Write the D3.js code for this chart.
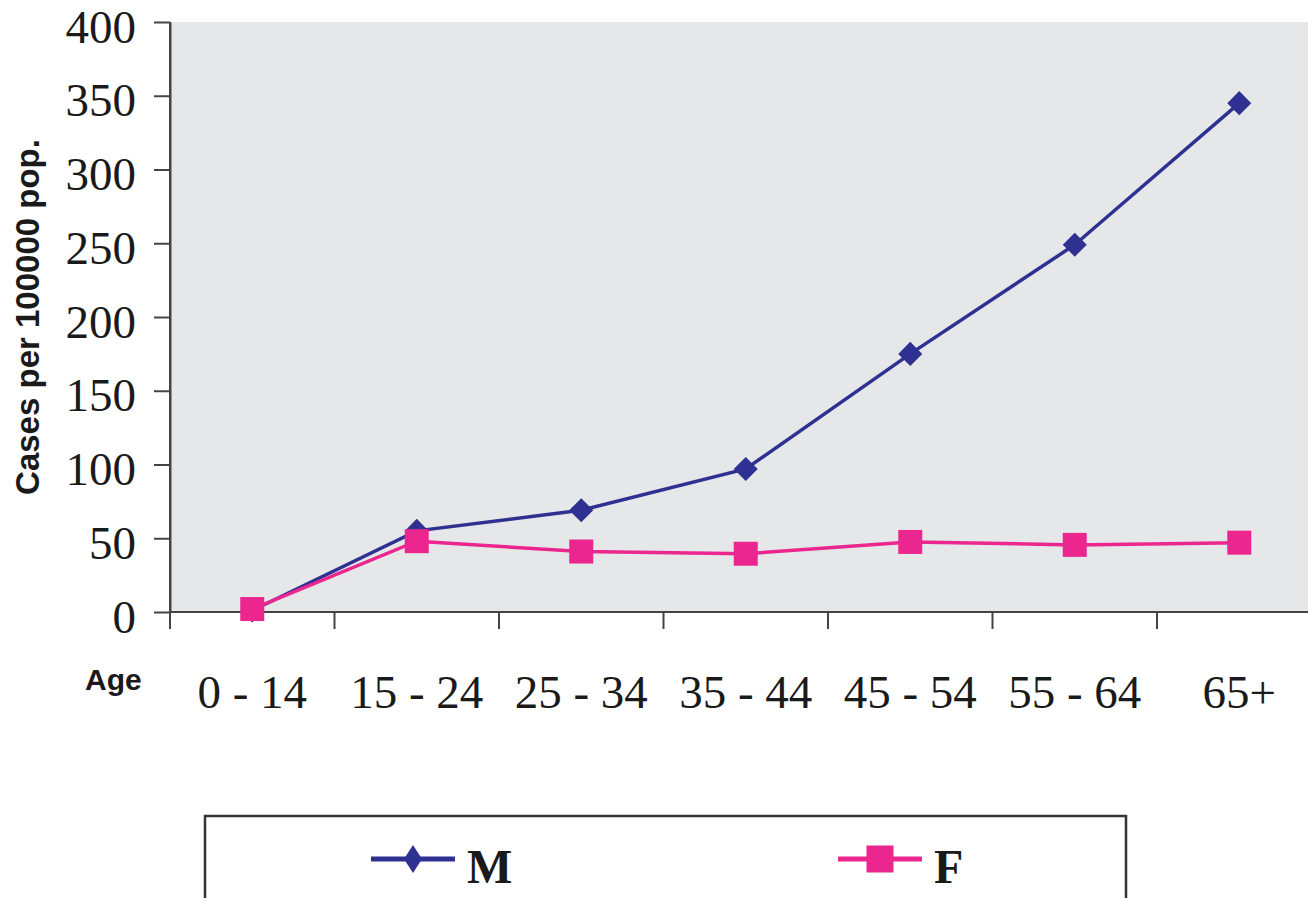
<!DOCTYPE html>
<html lang="en">
<head>
<meta charset="UTF-8">
<title>Cases per 100000 pop. by age</title>
<script src="https://cdn.jsdelivr.net/npm/d3@7/dist/d3.min.js"></script>
<style>
  * { margin: 0; padding: 0; }
  body { background: #fff; width: 1308px; height: 898px; overflow: hidden; }
  svg { display: block; }
  .tick-label { font-family: 'Liberation Serif', 'Times New Roman', serif; font-size: 47px; fill: #1a1a1a; }
  .axis-title { font-family: 'Liberation Sans', Arial, sans-serif; font-weight: bold; fill: #1a1a1a; }
  .legend-label { font-family: 'Liberation Serif', 'Times New Roman', serif; font-weight: bold; font-size: 48px; fill: #1a1a1a; }
</style>
</head>
<body>
<svg width="1308" height="898"></svg>
<script>
// data
const ageGroups = ['0 - 14', '15 - 24', '25 - 34', '35 - 44', '45 - 54', '55 - 64', '65+'];
const maleRates = [1, 55, 69, 97, 175, 249, 345];
const femaleRates = [2, 48, 41, 39.5, 47.5, 45.5, 47];
const yTicks = [0, 50, 100, 150, 200, 250, 300, 350, 400];

const COLORS = { M: '#2e3192', F: '#ec268f' };
const AXIS_COLOR = '#444';

const svg = d3.select('svg');

const plot = { left: 170, top: 22, bottom: 612, step: 164.5 };

const x = d3.scaleBand()
  .domain(ageGroups)
  .range([plot.left, plot.left + plot.step * ageGroups.length])
  .paddingInner(0).paddingOuter(0);

const y = d3.scaleLinear().domain([0, 400]).range([plot.bottom, plot.top]);

// plot background
svg.append('rect')
  .attr('x', plot.left).attr('y', plot.top)
  .attr('width', x.range()[1] - plot.left).attr('height', plot.bottom - plot.top)
  .attr('fill', '#e6e7e9');

// y axis
const yAxis = svg.append('g').attr('transform', `translate(${plot.left},0)`)
  .call(d3.axisLeft(y).tickValues(yTicks).tickSize(16).tickSizeOuter(0).tickFormat(''));
yAxis.selectAll('line, path').attr('stroke', AXIS_COLOR).attr('stroke-width', 2);

yAxis.selectAll('.tick').append('text')
  .attr('class', 'tick-label')
  .attr('x', -34).attr('y', 20)
  .attr('text-anchor', 'end')
  .attr('fill', '#1a1a1a')
  .text(d => d);

// x axis: ticks sit on the band edges, labels under the band centres
const xEdges = ageGroups.map(d => x(d)).concat([x.range()[1]]);
const xAxisG = svg.append('g');
xAxisG.append('line')
  .attr('x1', plot.left).attr('x2', 1308)
  .attr('y1', plot.bottom).attr('y2', plot.bottom)
  .attr('stroke', AXIS_COLOR).attr('stroke-width', 2);
xAxisG.selectAll('.xtick').data(xEdges).join('line')
  .attr('class', 'xtick')
  .attr('x1', d => d).attr('x2', d => d)
  .attr('y1', plot.top).attr('y2', plot.bottom + 17)
  .attr('stroke', AXIS_COLOR).attr('stroke-width', 2)
  .attr('y1', (d, i) => i === 0 ? plot.top : plot.bottom);

xAxisG.selectAll('.xlabel').data(ageGroups).join('text')
  .attr('class', 'tick-label')
  .attr('x', d => x(d) + x.bandwidth() / 2)
  .attr('y', 708)
  .attr('text-anchor', 'middle')
  .text(d => d);

// axis titles
svg.append('text')
  .attr('class', 'axis-title')
  .attr('font-size', 33)
  .attr('transform', 'translate(39,317) rotate(-90)')
  .attr('text-anchor', 'middle')
  .text('Cases per 100000 pop.');

svg.append('text')
  .attr('class', 'axis-title')
  .attr('font-size', 30)
  .attr('x', 85).attr('y', 690)
  .text('Age');

// series
const cx = d => x(d) + x.bandwidth() / 2;
const line = d3.line().x(d => cx(d.age)).y(d => y(d.v));

const series = [
  { key: 'M', values: maleRates, shape: d3.symbolDiamond2 },
  { key: 'F', values: femaleRates, shape: d3.symbolSquare2 },
];

const diamond = d3.symbol().type(d3.symbolSquare).size(17 * 17);
const square = d3.symbol().type(d3.symbolSquare).size(24 * 24);

series.forEach(s => {
  const pts = ageGroups.map((age, i) => ({ age, v: s.values[i] }));
  svg.append('path')
    .datum(pts)
    .attr('fill', 'none')
    .attr('stroke', COLORS[s.key])
    .attr('stroke-width', 3.5)
    .attr('d', line);

  svg.append('g').selectAll('path').data(pts).join('path')
    .attr('transform', d => s.key === 'M'
      ? `translate(${cx(d.age)},${y(d.v)}) rotate(45)`
      : `translate(${cx(d.age)},${y(d.v)})`)
    .attr('d', s.key === 'M' ? diamond() : square())
    .attr('fill', COLORS[s.key]);
});

// legend
const legend = svg.append('g');
legend.append('rect')
  .attr('x', 205).attr('y', 816)
  .attr('width', 921).attr('height', 120)
  .attr('fill', '#fff')
  .attr('stroke', '#333').attr('stroke-width', 2.5);

const legendItems = [
  { key: 'M', x0: 371 },
  { key: 'F', x0: 838 },
];
legendItems.forEach(item => {
  const g = legend.append('g');
  g.append('line')
    .attr('x1', item.x0).attr('x2', item.x0 + 84)
    .attr('y1', 859).attr('y2', 859)
    .attr('stroke', COLORS[item.key]).attr('stroke-width', 5);
  if (item.key === 'M') {
    g.append('path')
      .attr('d', 'M0,-14L9,0L0,14L-9,0Z')
      .attr('transform', `translate(${item.x0 + 42},859)`)
      .attr('fill', COLORS.M);
  } else {
    g.append('path')
      .attr('d', d3.symbol().type(d3.symbolSquare).size(27 * 27)())
      .attr('transform', `translate(${item.x0 + 42},859)`)
      .attr('fill', COLORS.F);
  }
  g.append('text')
    .attr('class', 'legend-label')
    .attr('x', item.x0 + 96).attr('y', 883)
    .text(item.key);
});
</script>
</body>
</html>
